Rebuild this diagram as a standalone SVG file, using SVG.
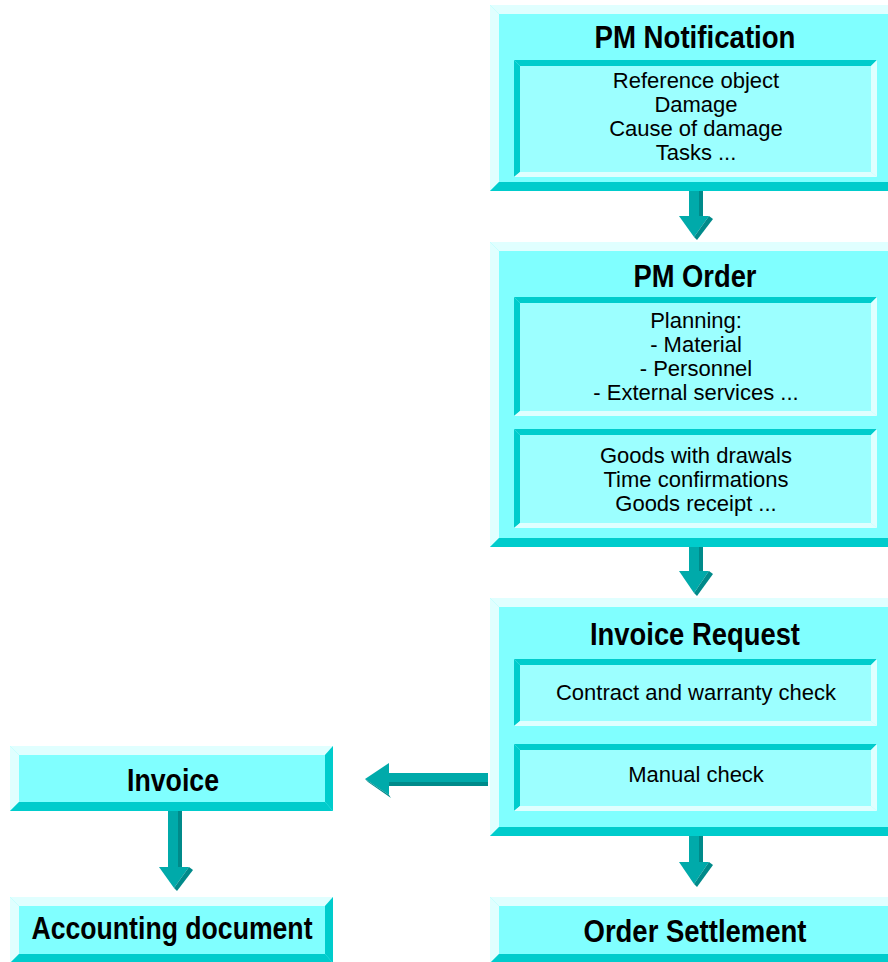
<svg xmlns="http://www.w3.org/2000/svg" width="888" height="962" viewBox="0 0 888 962">
<style>
.face{fill:#80FFFF}
.inface{fill:#9CFFFF}
.lt{fill:#E0FFFF}
.dk{fill:#00CCCC}
.al{fill:#00AAAA}
.ad{fill:#008A8A}
.title{font-family:"Liberation Sans",Arial,sans-serif;font-weight:bold;font-size:31px;fill:#000;text-anchor:middle}
.body{font-family:"Liberation Sans",Arial,sans-serif;font-size:22px;fill:#000;text-anchor:middle}
</style>
<rect width="888" height="962" fill="#FFFFFF"/>

<g id="pm-notification">
<rect class="face" x="490" y="5" width="408" height="186"/>
<polygon class="lt" points="490,5 898,5 889,14 499,14"/>
<polygon class="lt" points="490,5 499,14 499,182 490,191"/>
<polygon class="dk" points="490,191 499,182 889,182 898,191"/>
<text class="title" x="695" y="48" textLength="201" lengthAdjust="spacingAndGlyphs">PM Notification</text>
<g id="pm-notification-details">
<rect class="inface" x="514" y="60" width="363" height="117"/>
<polygon class="dk" points="514,60 877,60 871,66 520,66"/>
<polygon class="dk" points="514,60 520,66 520,172 514,177"/>
<polygon class="lt" points="877,60 877,177 871,172 871,66"/>
<polygon class="lt" points="514,177 520,172 871,172 877,177"/>
<text class="body" x="696" y="88">Reference object</text>
<text class="body" x="696" y="112">Damage</text>
<text class="body" x="696" y="136">Cause of damage</text>
<text class="body" x="696" y="160">Tasks ...</text>
</g>
</g>

<g id="pm-order">
<rect class="face" x="490" y="242" width="408" height="305"/>
<polygon class="lt" points="490,242 898,242 889,251 499,251"/>
<polygon class="lt" points="490,242 499,251 499,538 490,547"/>
<polygon class="dk" points="490,547 499,538 889,538 898,547"/>
<text class="title" x="695" y="287" textLength="123" lengthAdjust="spacingAndGlyphs">PM Order</text>
<g id="pm-order-planning">
<rect class="inface" x="514" y="297" width="363" height="119"/>
<polygon class="dk" points="514,297 877,297 871,303 520,303"/>
<polygon class="dk" points="514,297 520,303 520,411 514,416"/>
<polygon class="lt" points="877,297 877,416 871,411 871,303"/>
<polygon class="lt" points="514,416 520,411 871,411 877,416"/>
<text class="body" x="696" y="328">Planning:</text>
<text class="body" x="696" y="352">- Material</text>
<text class="body" x="696" y="376">- Personnel</text>
<text class="body" x="696" y="400">- External services ...</text>
</g>
<g id="pm-order-confirmations">
<rect class="inface" x="514" y="429" width="363" height="99"/>
<polygon class="dk" points="514,429 877,429 871,435 520,435"/>
<polygon class="dk" points="514,429 520,435 520,523 514,528"/>
<polygon class="lt" points="877,429 877,528 871,523 871,435"/>
<polygon class="lt" points="514,528 520,523 871,523 877,528"/>
<text class="body" x="696" y="463">Goods with drawals</text>
<text class="body" x="696" y="487">Time confirmations</text>
<text class="body" x="696" y="511">Goods receipt ...</text>
</g>
</g>

<g id="invoice-request">
<rect class="face" x="490" y="598" width="408" height="238"/>
<polygon class="lt" points="490,598 898,598 889,607 499,607"/>
<polygon class="lt" points="490,598 499,607 499,827 490,836"/>
<polygon class="dk" points="490,836 499,827 889,827 898,836"/>
<text class="title" x="695" y="645" textLength="210" lengthAdjust="spacingAndGlyphs">Invoice Request</text>
<g id="invoice-request-contract">
<rect class="inface" x="514" y="659" width="363" height="67"/>
<polygon class="dk" points="514,659 877,659 871,665 520,665"/>
<polygon class="dk" points="514,659 520,665 520,721 514,726"/>
<polygon class="lt" points="877,659 877,726 871,721 871,665"/>
<polygon class="lt" points="514,726 520,721 871,721 877,726"/>
<text class="body" x="696" y="700">Contract and warranty check</text>
</g>
<g id="invoice-request-manual">
<rect class="inface" x="514" y="744" width="363" height="67"/>
<polygon class="dk" points="514,744 877,744 871,750 520,750"/>
<polygon class="dk" points="514,744 520,750 520,806 514,811"/>
<polygon class="lt" points="877,744 877,811 871,806 871,750"/>
<polygon class="lt" points="514,811 520,806 871,806 877,811"/>
<text class="body" x="696" y="782">Manual check</text>
</g>
</g>

<g id="order-settlement">
<rect class="face" x="490" y="897" width="408" height="66"/>
<polygon class="lt" points="490,897 898,897 889,906 499,906"/>
<polygon class="lt" points="490,897 499,906 499,954 490,963"/>
<polygon class="dk" points="490,963 499,954 889,954 898,963"/>
<text class="title" x="695" y="942" textLength="223" lengthAdjust="spacingAndGlyphs">Order Settlement</text>
</g>

<g id="invoice">
<rect class="face" x="10" y="746" width="323" height="65"/>
<polygon class="lt" points="10,746 333,746 325,755 19,755"/>
<polygon class="lt" points="10,746 19,755 19,802 10,811"/>
<polygon class="dk" points="10,811 19,802 325,802 333,811"/>
<polygon class="dk" points="333,746 333,811 325,802 325,755"/>
<text class="title" x="173" y="791" textLength="92" lengthAdjust="spacingAndGlyphs">Invoice</text>
</g>

<g id="accounting-document">
<rect class="face" x="10" y="897" width="323" height="66"/>
<polygon class="lt" points="10,897 333,897 325,906 19,906"/>
<polygon class="lt" points="10,897 19,906 19,954 10,963"/>
<polygon class="dk" points="10,963 19,954 325,954 333,963"/>
<polygon class="dk" points="333,897 333,963 325,954 325,906"/>
<text class="title" x="172" y="939" textLength="281" lengthAdjust="spacingAndGlyphs">Accounting document</text>
</g>

<g id="connectors">
<g id="arrow-notification-order">
<rect class="al" x="689" y="191" width="10" height="25"/>
<rect class="ad" x="699" y="191" width="4" height="25"/>
<polygon class="al" points="679,216 709,216 694,237"/>
<polygon class="ad" points="709,216 713,219 697,240 694,237"/>
</g>
<g id="arrow-order-request">
<rect class="al" x="689" y="547" width="10" height="24"/>
<rect class="ad" x="699" y="547" width="4" height="24"/>
<polygon class="al" points="679,571 709,571 694,593"/>
<polygon class="ad" points="709,571 713,574 697,596 694,593"/>
</g>
<g id="arrow-request-settlement">
<rect class="al" x="689" y="836" width="10" height="26"/>
<rect class="ad" x="699" y="836" width="4" height="26"/>
<polygon class="al" points="679,862 709,862 694,884"/>
<polygon class="ad" points="709,862 713,865 697,887 694,884"/>
</g>
<g id="arrow-request-invoice">
<rect class="al" x="389" y="773" width="99" height="9"/>
<rect class="ad" x="389" y="782" width="99" height="4"/>
<polygon class="al" points="389,763 365,779 389,795"/>
<polygon class="ad" points="365,779 368,782 391,798 389,795"/>
</g>
<g id="arrow-invoice-accounting">
<rect class="al" x="168" y="811" width="10" height="56"/>
<rect class="ad" x="178" y="811" width="4" height="56"/>
<polygon class="al" points="159,867 189,867 174,888"/>
<polygon class="ad" points="189,867 193,870 177,891 174,888"/>
</g>
</g>
</svg>
